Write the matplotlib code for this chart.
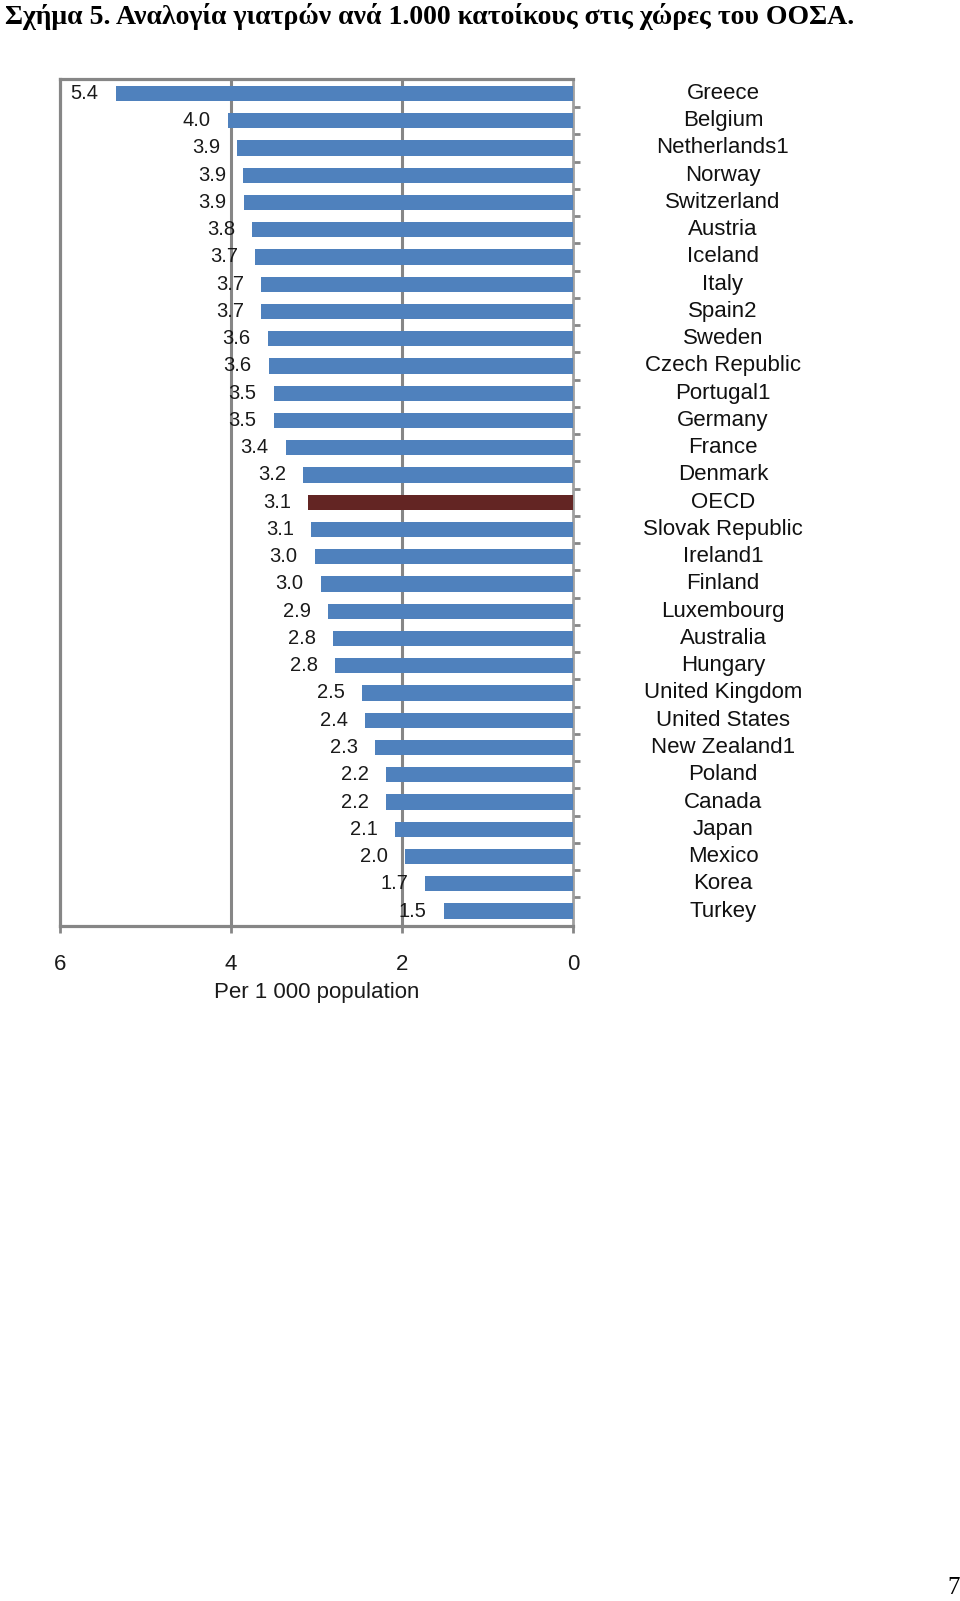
import numpy as np
import matplotlib.pyplot as plt
from matplotlib.transforms import blended_transform_factory

# Γιατροί ανά 1.000 κατοίκους (OECD)
countries = ['Greece', 'Belgium', 'Netherlands1', 'Norway', 'Switzerland', 'Austria',
             'Iceland', 'Italy', 'Spain2', 'Sweden', 'Czech Republic', 'Portugal1',
             'Germany', 'France', 'Denmark', 'OECD', 'Slovak Republic', 'Ireland1',
             'Finland', 'Luxembourg', 'Australia', 'Hungary', 'United Kingdom',
             'United States', 'New Zealand1', 'Poland', 'Canada', 'Japan', 'Mexico',
             'Korea', 'Turkey']
# μήκη ράβδων όπως διαβάζονται από την εικόνα
values = [5.35, 4.04, 3.93, 3.86, 3.85, 3.75, 3.72, 3.65, 3.65, 3.57, 3.56, 3.50,
          3.50, 3.36, 3.16, 3.10, 3.06, 3.02, 2.95, 2.87, 2.81, 2.78, 2.47, 2.43,
          2.31, 2.19, 2.19, 2.08, 1.96, 1.73, 1.51]
value_labels = ['5.4', '4.0', '3.9', '3.9', '3.9', '3.8', '3.7', '3.7', '3.7', '3.6',
                '3.6', '3.5', '3.5', '3.4', '3.2', '3.1', '3.1', '3.0', '3.0', '2.9',
                '2.8', '2.8', '2.5', '2.4', '2.3', '2.2', '2.2', '2.1', '2.0', '1.7', '1.5']
x_ticks = [6, 4, 2, 0]

title = 'Σχήμα 5. Αναλογία γιατρών ανά 1.000 κατοίκους στις χώρες του ΟΟΣΑ.'

blue = '#4f81bd'
oecd_col = '#632523'
gray = '#868686'

fig = plt.figure(figsize=(9.6, 16.01), dpi=100)
ax = fig.add_axes([60 / 960, 1 - 926 / 1601, (573 - 60) / 960, (926 - 79) / 1601])

n = len(countries)
y = np.arange(n)
colors = []
for c in countries:
    if c == 'OECD':
        colors.append(oecd_col)
    else:
        colors.append(blue)

ax.barh(y, values, height=0.56, color=colors, zorder=3)

for i in range(n):
    ax.text(values[i] + 0.2, y[i], value_labels[i], ha='right', va='center',
            fontsize=14.5, family='Liberation Sans', color='#1a1a1a', zorder=4)

ax.set_xlim(6, 0)
ax.set_ylim(n - 0.45, -0.53)
ax.set_xticks(x_ticks)
ax.set_xticklabels([str(t) for t in x_ticks], fontsize=16, family='Liberation Sans',
                   color='#1a1a1a')
ax.tick_params(axis='x', length=5, width=2, color=gray, pad=15)
ax.set_xlabel('Per 1 000 population', fontsize=16, family='Liberation Sans',
              color='#1a1a1a', labelpad=5)

ax.yaxis.tick_right()
ax.set_yticks(np.arange(0.5, n - 1, 1))
ax.set_yticklabels([])
ax.tick_params(axis='y', length=5, width=2, color=gray)

for s in ax.spines.values():
    s.set_color(gray)
    s.set_linewidth(2.3)
ax.spines['right'].set_color('#a0a0a0')
ax.spines['right'].set_linewidth(2)

for gx in [4, 2]:
    ax.axvline(gx, color=gray, linewidth=2.2, zorder=1)

# ονόματα χωρών στα δεξιά
tr = blended_transform_factory(fig.transFigure, ax.transData)
for i in range(n):
    ax.text(723 / 960, y[i], countries[i], transform=tr, ha='center', va='center',
            fontsize=16, family='Liberation Sans', color='#111111', clip_on=False)

fig.text(5 / 960, 1 - 16 / 1601, title, ha='left', va='center', fontsize=20,
         family='Liberation Serif', weight='bold')
fig.text(954 / 960, 1 - 1588 / 1601, '7', ha='center', va='center', fontsize=18,
         family='Liberation Serif')

fig.savefig('out.png', dpi=100)
